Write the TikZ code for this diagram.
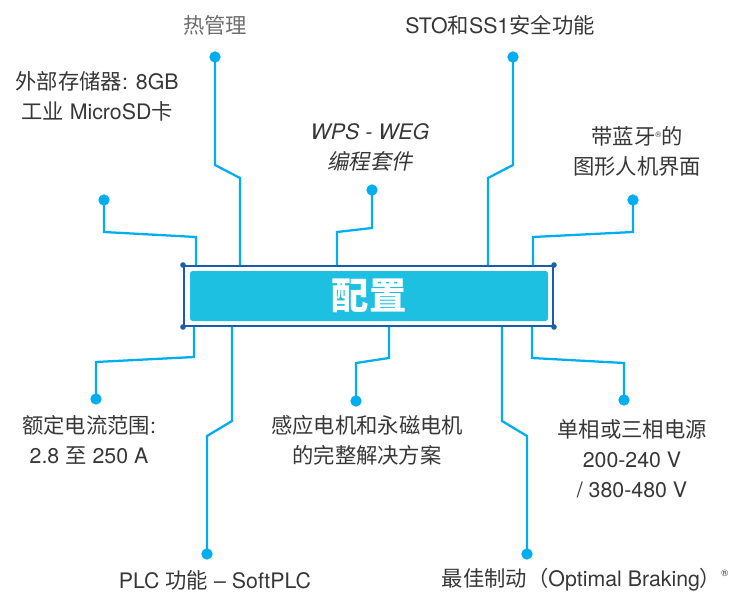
\documentclass[tikz,border=0pt]{standalone}
\usepackage{fontspec}
\setmainfont{TeX Gyre Heros}
\newfontfamily\cjk{Noto Sans CJK SC}
\newfontfamily\cjkit{Noto Sans CJK SC}[FakeSlant=0.2]
\definecolor{linecyan}{RGB}{0,174,239}
\definecolor{boxfill}{RGB}{30,192,226}
\definecolor{boxblue}{RGB}{26,93,168}
\definecolor{txtgray}{RGB}{55,55,55}
\definecolor{txtlight}{RGB}{110,110,110}
\tikzset{
  lbl/.style={text=txtgray, align=center, inner sep=0pt, font=\fontsize{16}{22.5}\selectfont},
  lightlbl/.style={lbl, text=txtlight},
  dotnode/.style={circle, fill=linecyan, inner sep=0pt, minimum size=8.5pt},
  conn/.style={draw=linecyan, line width=1.7pt, line join=miter},
  outerbox/.style={draw=boxblue, line width=1.5pt, minimum width=276.75pt, minimum height=45pt, inner sep=0pt},
  innerbox/.style={fill=boxfill, rounded corners=2pt, minimum width=268.5pt, minimum height=37.5pt, inner sep=0pt, text=white, font=\fontsize{28}{30}\selectfont\cjk\bfseries}
}
\begin{document}
\begin{tikzpicture}[x=0.75pt, y=-0.75pt]
\useasboundingbox (0,0) rectangle (733,592);
% central box
\node[outerbox] (cfg) at (368.5,296) {};
\node[innerbox] (cfgin) at (369,296) {配置};
\foreach \c in {north west, north east, south west, south east}
  \fill[boxblue] (cfg.\c) circle (2.8);
% labels
\node[lightlbl] (l1) at (215,25) {\cjk 热管理};
\node[lbl] (l2) at (97,96) {{\cjk 外部存储器}: 8GB\\{\cjk 工业} MicroSD{\cjk 卡}};
\node[lbl] (l3) at (370,147) {\itshape WPS - WEG\\{\cjkit 编程套件}};
\node[lbl] (l4) at (500,25) {STO{\cjk 和}SS1{\cjk 安全功能}};
\node[lbl] (l5) at (637,151) {{\cjk 带蓝牙}\raisebox{0.6ex}{\fontsize{6}{6}\selectfont ®}{\cjk 的}\\{\cjk 图形人机界面}};
\node[lbl] (l6) at (89,440) {{\cjk 额定电流范围}:\\2.8 {\cjk 至} 250 A};
\node[lbl] (l7) at (367,440) {{\cjk 感应电机和永磁电机}\\{\cjk 的完整解决方案}};
\node[lbl] (l8) at (632,459) {{\cjk 单相或三相电源}\\200-240 V\\/ 380-480 V};
\node[lbl] (l9) at (215,580) {PLC {\cjk 功能} – SoftPLC};
\node[lbl] (l10) at (585,580) {{\cjk 最佳制动（}Optimal Braking{\cjk ）}\raisebox{0.9ex}{\fontsize{7}{7}\selectfont ®}};
% dots
\node[dotnode] (d1) at (215,57) {};
\node[dotnode] (d2) at (104,200) {};
\node[dotnode] (d3) at (372,190) {};
\node[dotnode] (d4) at (513,57) {};
\node[dotnode] (d5) at (633,200) {};
\node[dotnode] (d6) at (96,399) {};
\node[dotnode] (d7) at (207,554) {};
\node[dotnode] (d8) at (356,401) {};
\node[dotnode] (d9) at (527,554) {};
\node[dotnode] (d10) at (624,400) {};
% bend coordinates
\coordinate (p1a) at (215,165); \coordinate (p1b) at (240,178);
\coordinate (p2a) at (104,232); \coordinate (p2b) at (196,237);
\coordinate (p3a) at (372,228); \coordinate (p3b) at (337,232);
\coordinate (p4a) at (513,165); \coordinate (p4b) at (488,178);
\coordinate (p5a) at (633,232); \coordinate (p5b) at (533,237);
\coordinate (p6a) at (96,362);  \coordinate (p6b) at (194,357);
\coordinate (p7a) at (207,436); \coordinate (p7b) at (232,421);
\coordinate (p8a) at (356,363); \coordinate (p8b) at (389,358);
\coordinate (p9a) at (527,436); \coordinate (p9b) at (502,421);
\coordinate (p10a) at (624,363); \coordinate (p10b) at (532,358);
% connectors
\foreach \i in {1,...,5}
  \draw[conn] (d\i.center) -- (p\i a) -- (p\i b) -- (p\i b |- cfg.north);
\foreach \i in {6,...,10}
  \draw[conn] (d\i.center) -- (p\i a) -- (p\i b) -- (p\i b |- cfg.south);
\end{tikzpicture}
\end{document}
